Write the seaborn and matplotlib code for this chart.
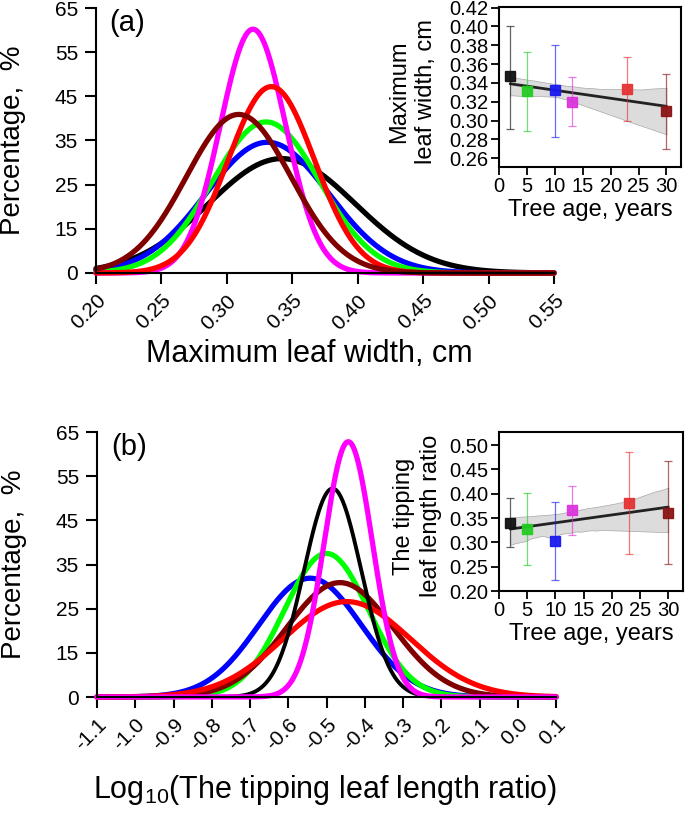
import numpy as np
import matplotlib
matplotlib.use("Agg")
import matplotlib.pyplot as plt
import matplotlib.transforms as mtransforms
import seaborn as sns

# tree ages and their colours (same order everywhere)
ages = [2, 5, 10, 13, 23, 30]
line_colors = ["#000000", "#00ff00", "#0000ff", "#ff00ff", "#ff0000", "#800000"]
mark_colors = ["#111111", "#22cc22", "#1a1aee", "#dd33dd", "#e53333", "#8b1414"]

# (a) fitted normal curves of maximum leaf width (mean, sd, peak height in axis units)
width_mu = [0.342, 0.330, 0.331, 0.320, 0.334, 0.309]
width_sd = [0.056, 0.041, 0.047, 0.025, 0.033, 0.040]
width_peak = [25.9, 34.2, 29.6, 55.2, 42.2, 35.9]

# (b) fitted normal curves of log10 tipping leaf length ratio
ratio_mu = [-0.484, -0.500, -0.543, -0.443, -0.447, -0.465]
ratio_sd = [0.075, 0.110, 0.134, 0.063, 0.167, 0.139]
ratio_peak = [47.2, 32.5, 26.9, 57.8, 21.6, 25.9]

# insets: mean with lower / upper whisker per tree age
width_mean = [0.347, 0.331, 0.332, 0.320, 0.334, 0.310]
width_lo = [0.291, 0.289, 0.283, 0.294, 0.300, 0.270]
width_hi = [0.401, 0.373, 0.380, 0.346, 0.368, 0.350]
ratio_mean = [0.340, 0.328, 0.303, 0.366, 0.382, 0.360]
ratio_lo = [0.290, 0.253, 0.223, 0.315, 0.277, 0.255]
ratio_hi = [0.392, 0.402, 0.383, 0.416, 0.485, 0.467]

# axis ticks as printed on the figure
pct_ticks = [0, 10, 20, 30, 40, 50, 60]
pct_labels = ["0", "15", "25", "35", "45", "55", "65"]
width_ticks = [0.20, 0.25, 0.30, 0.35, 0.40, 0.45, 0.50, 0.55]
ratio_ticks = [-1.1, -1.0, -0.9, -0.8, -0.7, -0.6, -0.5, -0.4, -0.3, -0.2, -0.1, 0.0, 0.1]
age_ticks = [0, 5, 10, 15, 20, 25, 30]
inset_a_ticks = [0.26, 0.28, 0.30, 0.32, 0.34, 0.36, 0.38, 0.40, 0.42]
inset_b_ticks = [0.20, 0.25, 0.30, 0.35, 0.40, 0.45, 0.50]

sns.set_style("ticks")
plt.rcParams["font.family"] = ["Liberation Sans", "DejaVu Sans"]
plt.rcParams["mathtext.fontset"] = "custom"
plt.rcParams["mathtext.rm"] = "Liberation Sans"
plt.rcParams["axes.unicode_minus"] = False
for key in ["text.color", "axes.labelcolor", "xtick.color", "ytick.color", "axes.edgecolor"]:
    plt.rcParams[key] = "black"

fig = plt.figure(figsize=(6.85, 8.13), dpi=100)
W, H = 685, 813


def px_axes(l, t, r, b):
    return fig.add_axes([l / W, 1 - b / H, (r - l) / W, (b - t) / H])


def density_panel(ax, mu, sd, peak, order, lws, xticks, fmt, xlabel, tag):
    grid = np.linspace(xticks[0], xticks[-1], 500)
    for i in order:
        y = peak[i] * np.exp(-0.5 * ((grid - mu[i]) / sd[i]) ** 2)
        sns.lineplot(x=grid, y=y, color=line_colors[i], lw=lws[i], ax=ax, clip_on=False)
    ax.set_xlim(xticks[0], xticks[-1])
    ax.set_ylim(0, 60)
    ax.set_yticks(pct_ticks)
    ax.set_yticklabels(pct_labels, fontsize=15)
    ax.set_xticks(xticks)
    ax.set_xticklabels([fmt % v for v in xticks], fontsize=15, rotation=45,
                       ha="right", va="top", rotation_mode="anchor")
    shift = mtransforms.ScaledTranslation(10 / 100, 2 / 100, fig.dpi_scale_trans)
    for lab in ax.get_xticklabels():
        lab.set_transform(lab.get_transform() + shift)
    ax.tick_params(length=8, width=1.5, pad=5)
    for s in ["left", "bottom"]:
        ax.spines[s].set_linewidth(1.5)
    sns.despine(ax=ax)
    ax.set_ylabel("Percentage,  %", fontsize=20)
    ax.yaxis.set_label_coords(-0.152, 0.5)
    ax.set_xlabel(xlabel, fontsize=22)
    ax.text(0.03, 0.995, tag, transform=ax.transAxes, fontsize=21, va="top", ha="left")


def inset_panel(ax, mean, lo, hi, ylim, yticks, ylabel, label_x):
    sns.regplot(x=ages, y=mean, scatter=False, ci=95, n_boot=1000, seed=3,
                color="#222222", line_kws=dict(lw=2), ax=ax)
    band = ax.collections[0]
    band.set_facecolor("#dcdcdc")
    band.set_alpha(1)
    band.set_edgecolor("#a8a8a8")
    band.set_linewidth(0.5)
    for i in range(len(ages)):
        ax.errorbar(ages[i], mean[i], yerr=[[mean[i] - lo[i]], [hi[i] - mean[i]]],
                    fmt="none", ecolor=mark_colors[i], elinewidth=0.9, capsize=3,
                    capthick=0.9, alpha=0.65, zorder=3)
        ax.plot(ages[i], mean[i], "s", color=mark_colors[i], ms=7, alpha=0.95, zorder=4)
    ax.set_xlim(0, 32.6)
    ax.set_ylim(*ylim)
    ax.set_xticks(age_ticks)
    ax.set_xticklabels([str(v) for v in age_ticks], fontsize=14.5)
    ax.set_yticks(yticks)
    ax.set_yticklabels(["%.2f" % v for v in yticks], fontsize=14.5)
    ax.tick_params(length=6, width=1.3, pad=1.5)
    for s in ax.spines.values():
        s.set_linewidth(1.5)
    ax.set_xlabel("Tree age, years", fontsize=17)
    ax.xaxis.set_label_coords(0.5, -0.2)
    ax.set_ylabel(ylabel, fontsize=17, linespacing=1.3)
    ax.yaxis.set_label_coords(label_x, 0.47)


# panel (a)
ax_a = px_axes(96, 8, 554, 273)
density_panel(ax_a, width_mu, width_sd, width_peak, [0, 2, 1, 3, 4, 5],
              [3.8] * 6, width_ticks, "%.2f", "Maximum leaf width, cm", "(a)")
ax_a.xaxis.set_label_coords(0.465, -0.25)

# panel (b)
ax_b = px_axes(97, 432, 556, 697)
density_panel(ax_b, ratio_mu, ratio_sd, ratio_peak, [2, 1, 5, 4, 0, 3],
              [2.8, 3.8, 3.8, 3.8, 3.8, 3.8], ratio_ticks, "%.1f",
              r"Log$_{\mathregular{10}}$(The tipping leaf length ratio)", "(b)")
ax_b.xaxis.set_label_coords(0.497, -0.285)

# insets
ins_a = px_axes(499, 7, 681, 167)
inset_panel(ins_a, width_mean, width_lo, width_hi, (0.2507, 0.4207), inset_a_ticks,
            "Maximum\nleaf width, cm", -0.34)
ins_b = px_axes(499, 432, 683, 591)
inset_panel(ins_b, ratio_mean, ratio_lo, ratio_hi, (0.20, 0.527), inset_b_ticks,
            "The tipping\nleaf length ratio", -0.31)

fig.savefig("out.png", dpi=100)
